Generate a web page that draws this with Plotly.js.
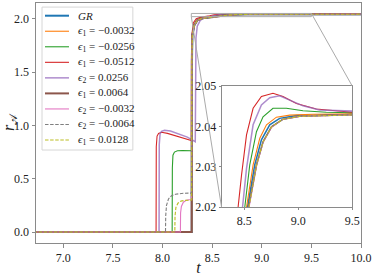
<!DOCTYPE html>
<html>
<head>
<meta charset="utf-8">
<script src="https://cdn.plot.ly/plotly-3.0.1.min.js"></script>
<style>html,body{margin:0;padding:0;background:#fff;}#chart{width:374px;height:276px;}</style>
</head>
<body>
<div id="chart"></div>
<script>
// ---- data ----
const seriesNames = ['<i>GR</i>',
  '<i>ϵ</i><sub>1</sub> = −0.0032',
  '<i>ϵ</i><sub>1</sub> = −0.0256',
  '<i>ϵ</i><sub>1</sub> = −0.0512',
  '<i>ϵ</i><sub>2</sub> = 0.0256',
  '<i>ϵ</i><sub>1</sub> = 0.0064',
  '<i>ϵ</i><sub>2</sub> = −0.0032',
  '<i>ϵ</i><sub>2</sub> = −0.0064',
  '<i>ϵ</i><sub>1</sub> = 0.0128'];

const tGR = [6.7, 8.295, 8.297, 8.30, 8.32, 8.35, 8.40, 8.45, 8.53, 8.597, 8.659, 8.736, 8.828, 8.983, 9.198, 9.5, 10.0];
const rGR = [0, 0, 1.60, 1.84, 1.94, 1.985, 2.005, 2.013, 2.02, 2.0305, 2.0367, 2.0404, 2.042, 2.0427, 2.0428, 2.0431, 2.0432];

const tE1m0032 = [6.7, 8.295, 8.297, 8.30, 8.32, 8.35, 8.40, 8.45, 8.521, 8.582, 8.644, 8.706, 8.798, 8.921, 9.136, 9.5, 10.0];
const rE1m0032 = [0, 0, 1.60, 1.84, 1.94, 1.985, 2.006, 2.014, 2.02, 2.0305, 2.0371, 2.0404, 2.0423, 2.0428, 2.043, 2.0432, 2.0433];

const tE1m0256 = [6.7, 8.097, 8.099, 8.105, 8.12, 8.15, 8.20, 8.25, 8.292, 8.294, 8.30, 8.32, 8.35, 8.40, 8.45, 8.505, 8.551, 8.613, 8.674, 8.766, 8.89, 9.044, 9.26, 9.5, 10.0];
const rE1m0256 = [0, 0, 0.60, 0.72, 0.75, 0.762, 0.764, 0.763, 0.762, 1.60, 1.85, 1.95, 1.99, 2.008, 2.016, 2.02, 2.0305, 2.0387, 2.0424, 2.0445, 2.0445, 2.0439, 2.0435, 2.0434, 2.0433];

const tE1m0512 = [6.7, 7.935, 7.937, 7.945, 7.96, 7.99, 8.05, 8.15, 8.25, 8.29, 8.292, 8.297, 8.31, 8.34, 8.38, 8.443, 8.475, 8.521, 8.582, 8.659, 8.766, 8.859, 8.983, 9.167, 9.5, 10.0];
const rE1m0512 = [0, 0, 0.80, 0.90, 0.925, 0.935, 0.925, 0.90, 0.872, 0.858, 1.60, 1.86, 1.96, 2.0, 2.013, 2.02, 2.028, 2.0379, 2.0445, 2.0474, 2.0482, 2.0474, 2.0457, 2.0443, 2.0435, 2.0433];

const tE2p0256 = [6.7, 7.965, 7.967, 7.975, 7.99, 8.02, 8.08, 8.15, 8.25, 8.33, 8.332, 8.337, 8.35, 8.38, 8.42, 8.484, 8.521, 8.582, 8.659, 8.736, 8.828, 8.921, 9.044, 9.198, 9.5, 10.0];
const rE2p0256 = [0, 0, 0.82, 0.92, 0.945, 0.955, 0.948, 0.925, 0.89, 0.848, 1.55, 1.82, 1.93, 1.985, 2.008, 2.02, 2.0296, 2.0404, 2.0453, 2.0471, 2.0476, 2.0465, 2.0451, 2.0441, 2.0435, 2.0433];

const tE1p0064 = [6.7, 8.293, 8.295, 8.30, 8.32, 8.35, 8.40, 8.45, 8.54, 8.613, 8.674, 8.752, 8.859, 9.013, 9.26, 9.5, 10.0];
const rE1p0064 = [0, 0, 1.60, 1.84, 1.94, 1.985, 2.004, 2.012, 2.02, 2.0305, 2.0362, 2.0399, 2.0418, 2.0425, 2.0428, 2.0431, 2.0432];

const tE2m0032 = [6.7, 8.18, 8.182, 8.19, 8.21, 8.24, 8.265, 8.293, 8.295, 8.30, 8.32, 8.35, 8.40, 8.45, 8.545, 8.616, 8.676, 8.754, 8.86, 9.013, 9.26, 9.5, 10.0];
const rE2m0032 = [0, 0, 0.18, 0.24, 0.28, 0.297, 0.302, 0.305, 1.60, 1.84, 1.94, 1.985, 2.004, 2.012, 2.02, 2.0304, 2.0361, 2.0398, 2.0418, 2.0425, 2.0428, 2.0431, 2.0432];

const tE2m0064 = [6.7, 8.03, 8.032, 8.04, 8.06, 8.09, 8.13, 8.18, 8.22, 8.293, 8.295, 8.30, 8.32, 8.35, 8.40, 8.45, 8.542, 8.614, 8.675, 8.753, 8.86, 9.013, 9.26, 9.5, 10.0];
const rE2m0064 = [0, 0, 0.15, 0.25, 0.31, 0.34, 0.355, 0.362, 0.364, 0.365, 1.60, 1.84, 1.94, 1.985, 2.004, 2.012, 2.02, 2.0305, 2.0362, 2.0399, 2.0418, 2.0425, 2.0428, 2.0431, 2.0432];

const tE1p0128 = [6.7, 8.124, 8.126, 8.135, 8.155, 8.185, 8.22, 8.26, 8.293, 8.295, 8.30, 8.32, 8.35, 8.40, 8.45, 8.543, 8.615, 8.675, 8.753, 8.86, 9.013, 9.26, 9.5, 10.0];
const rE1p0128 = [0, 0, 0.15, 0.23, 0.27, 0.29, 0.296, 0.298, 0.30, 1.60, 1.84, 1.94, 1.985, 2.004, 2.012, 2.02, 2.0305, 2.0362, 2.0399, 2.0418, 2.0425, 2.0428, 2.0431, 2.0432];

const xTickVals = [7.0, 7.5, 8.0, 8.5, 9.0, 9.5, 10.0];
const yTickVals = [0.0, 0.5, 1.0, 1.5, 2.0];
const insetXTicks = [8.5, 9.0, 9.5];
const insetYTicks = [2.02, 2.03, 2.04, 2.05];

// ---- styles ----
const tList = [tGR, tE1m0032, tE1m0256, tE1m0512, tE2p0256, tE1p0064, tE2m0032, tE2m0064, tE1p0128];
const rList = [rGR, rE1m0032, rE1m0256, rE1m0512, rE2p0256, rE1p0064, rE2m0032, rE2m0064, rE1p0128];
const colors = ['#1f77b4','#ff7f0e','#2ca02c','#d62728','#9467bd','#8c564b','#e377c2','#7f7f7f','#bcbd22'];
const widths = [2, 1.1, 1.1, 1.1, 1.5, 2, 1.1, 1.1, 1.1];
const dashes = ['solid','solid','solid','solid','solid','solid','solid','3.5px,1.6px','3.5px,1.6px'];
const opac = [1, 1, 1, 1, 0.75, 1, 1, 1, 1];

const xr = [6.725, 10.0], yr = [-0.103, 2.148];
const ixr = [8.29, 9.5], iyr = [2.02, 2.05];
const insetDomX = [0.571, 0.973], insetDomY = [0.149, 0.654];

const traces = [];
for (let i = 0; i < tList.length; i++) {
  traces.push({x: tList[i], y: rList[i], type: 'scatter', mode: 'lines', name: seriesNames[i],
    line: {color: colors[i], width: widths[i], dash: dashes[i]}, opacity: opac[i],
    xaxis: 'x', yaxis: 'y', showlegend: false, hoverinfo: 'skip'});
}
for (let i = 0; i < tList.length; i++) {
  traces.push({x: tList[i], y: rList[i], type: 'scatter', mode: 'lines', name: seriesNames[i],
    line: {color: colors[i], width: widths[i] > 1.6 ? 1.5 : widths[i], dash: dashes[i]}, opacity: opac[i],
    xaxis: 'x2', yaxis: 'y2', showlegend: false, hoverinfo: 'skip'});
}

const SERIF = 'Liberation Serif';
const tickFont = {family: SERIF, size: 12, color: '#222'};
const frame = '#8a8a8a';

// zoom marker + connectors
const px = t => (t - xr[0]) / (xr[1] - xr[0]);
const py = v => (v - yr[0]) / (yr[1] - yr[0]);
const shapes = [
  {type: 'rect', xref: 'x', yref: 'y', x0: ixr[0], x1: ixr[1], y0: iyr[0], y1: iyr[1], line: {color: '#aaa', width: 1}, layer: 'above'},
  {type: 'line', xref: 'paper', yref: 'paper', x0: px(ixr[0]), y0: py(iyr[0]), x1: insetDomX[0], y1: insetDomY[0], line: {color: '#aaa', width: 1}},
  {type: 'line', xref: 'paper', yref: 'paper', x0: px(ixr[1]), y0: py(iyr[1]), x1: insetDomX[1], y1: insetDomY[1], line: {color: '#aaa', width: 1}}
];

// manual legend
const annotations = [];
const legTop = 0.983, legBot = 0.3875, legL = 0.0185, legR = 0.298;
shapes.push({type: 'rect', xref: 'paper', yref: 'paper', x0: legL, x1: legR, y0: legBot, y1: legTop,
  line: {color: '#d6d6d6', width: 1}, fillcolor: 'rgba(255,255,255,0.85)', layer: 'above'});
const rowH = 15.54 / 240;
const row0 = (243 - 15.7) / 240;
for (let i = 0; i < seriesNames.length; i++) {
  const y = row0 - i * rowH;
  shapes.push({type: 'line', xref: 'paper', yref: 'paper', x0: 0.0277, x1: 0.1015, y0: y, y1: y,
    line: {color: colors[i], width: widths[i], dash: dashes[i]}, opacity: opac[i], layer: 'above'});
  annotations.push({xref: 'paper', yref: 'paper', x: 0.124, y: y, xanchor: 'left', yanchor: 'middle',
    text: seriesNames[i], showarrow: false, font: {family: SERIF, size: 11, color: '#222'}});
}

const layout = {
  width: 374, height: 276,
  margin: {l: 36, r: 13, t: 3, b: 33},
  paper_bgcolor: '#fff', plot_bgcolor: '#fff',
  showlegend: false,
  xaxis: {range: xr, tickvals: xTickVals, tickformat: '.1f', showgrid: false, zeroline: false,
    showline: true, mirror: true, linecolor: frame, linewidth: 1, ticks: 'outside', ticklen: 3.5, tickcolor: frame,
    tickfont: tickFont, title: {text: '<i>t</i>', font: {family: SERIF, size: 16, color: '#222'}, standoff: 0}},
  yaxis: {range: yr, tickvals: yTickVals, tickformat: '.1f', showgrid: false, zeroline: false,
    showline: true, mirror: true, linecolor: frame, linewidth: 1, ticks: 'outside', ticklen: 3.5, tickcolor: frame,
    tickfont: tickFont, title: {text: '<i>r</i><sub>𝒜</sub>', font: {family: SERIF, size: 16, color: '#222'}, standoff: 4}},
  xaxis2: {domain: insetDomX, anchor: 'y2', range: ixr, tickvals: insetXTicks, tickformat: '.1f', showgrid: false, zeroline: false,
    showline: true, mirror: true, linecolor: frame, linewidth: 1, ticks: 'outside', ticklen: 2, tickcolor: frame, tickfont: tickFont},
  yaxis2: {domain: insetDomY, anchor: 'x2', range: iyr, tickvals: insetYTicks, tickformat: '.2f', showgrid: false, zeroline: false,
    showline: true, mirror: true, linecolor: frame, linewidth: 1, ticks: 'outside', ticklen: 2, tickcolor: frame, tickfont: tickFont},
  shapes: shapes,
  annotations: annotations
};

Plotly.newPlot('chart', traces, layout, {displayModeBar: false});
</script>
</body>
</html>
